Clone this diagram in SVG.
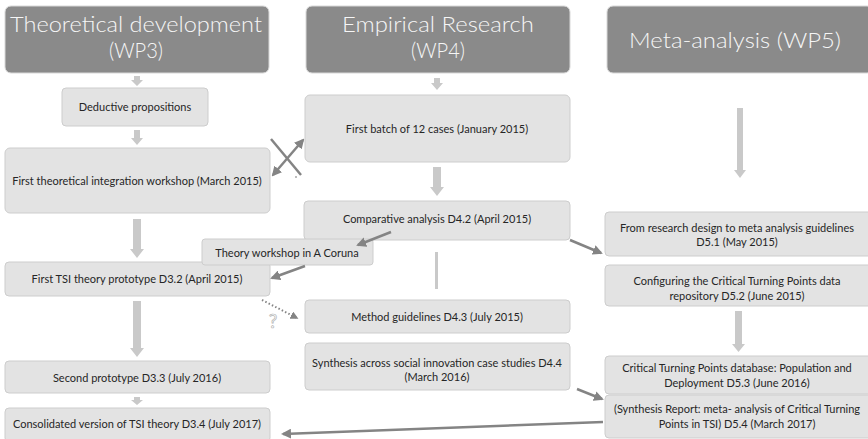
<svg xmlns="http://www.w3.org/2000/svg" width="868" height="439" viewBox="0 0 868 439">
  <defs>
    <style>
      .hdr { fill: #8a8a8a; stroke: #d8d8d8; stroke-width: 1; }
      .hdr-t { font-family: Lato, "Open Sans", sans-serif; font-size: 22px; font-weight: 300; fill: #f6f6f6; text-anchor: middle; }
      .box { fill: #e3e3e3; stroke: #cdcdcd; stroke-width: 1; }
      .t { font-family: Lato, "Open Sans", sans-serif; font-size: 11px; fill: #262626; text-anchor: middle; }
      .blk { fill: #c9c9c9; }
      .ln { stroke: #848484; stroke-width: 2.5; fill: none; }
      .dot { stroke: #848484; stroke-width: 2; fill: none; stroke-dasharray: 1.5 2.2; }
    </style>
    <marker id="ah" viewBox="0 0 10 10" refX="8" refY="5" markerWidth="4" markerHeight="4" orient="auto-start-reverse" markerUnits="strokeWidth">
      <path d="M0,0 L10,5 L0,10 z" fill="#848484"/>
    </marker>
  </defs>

  <!-- column headers -->
  <g id="wp3">
    <rect class="hdr" x="5" y="6" width="264" height="67" rx="6"/>
    <text class="hdr-t" x="136" y="32" font-size="23" textLength="252" lengthAdjust="spacingAndGlyphs">Theoretical development</text>
    <text class="hdr-t" x="136" y="58" font-size="23" textLength="54" lengthAdjust="spacingAndGlyphs">(WP3)</text>
  </g>
  <g id="wp4">
    <rect class="hdr" x="306" y="6" width="264" height="67" rx="6"/>
    <text class="hdr-t" x="438" y="32" textLength="192" lengthAdjust="spacingAndGlyphs">Empirical Research</text>
    <text class="hdr-t" x="438" y="58" textLength="54" lengthAdjust="spacingAndGlyphs">(WP4)</text>
  </g>
  <g id="wp5">
    <rect class="hdr" x="607" y="6" width="266" height="67" rx="6"/>
    <text class="hdr-t" x="735" y="48" font-size="24" textLength="212" lengthAdjust="spacingAndGlyphs">Meta-analysis (WP5)</text>
  </g>

  <!-- WP3 column -->
  <g id="deductive">
    <rect class="box" x="62" y="88" width="146" height="38" rx="4"/>
    <text class="t" x="135" y="111">Deductive propositions</text>
  </g>
  <g id="workshop1">
    <rect class="box" x="5" y="148" width="265" height="65" rx="5"/>
    <text class="t" x="137" y="185">First theoretical integration workshop (March 2015)</text>
  </g>
  <g id="prototype1">
    <rect class="box" x="5" y="262" width="265" height="34" rx="4"/>
    <text class="t" x="137" y="283">First TSI theory prototype D3.2 (April 2015)</text>
  </g>
  <g id="prototype2">
    <rect class="box" x="5" y="361" width="265" height="32" rx="4"/>
    <text class="t" x="137" y="382">Second prototype D3.3 (July 2016)</text>
  </g>
  <g id="consolidated">
    <rect class="box" x="5" y="408" width="265" height="34" rx="4"/>
    <text class="t" x="137" y="428">Consolidated version of TSI theory D3.4 (July 2017)</text>
  </g>

  <!-- WP4 column -->
  <g id="batch">
    <rect class="box" x="305" y="95" width="265" height="67" rx="5"/>
    <text class="t" x="437" y="133">First batch of 12 cases (January 2015)</text>
  </g>
  <g id="comparative">
    <rect class="box" x="304" y="201" width="266" height="39" rx="4"/>
    <text class="t" x="437" y="223">Comparative analysis D4.2 (April 2015)</text>
  </g>
  <g id="coruna">
    <rect class="box" x="202" y="239" width="171" height="26" rx="3"/>
    <text class="t" x="287" y="257">Theory workshop in A Coruna</text>
  </g>
  <g id="method">
    <rect class="box" x="305" y="300" width="265" height="33" rx="4"/>
    <text class="t" x="437" y="321">Method guidelines D4.3 (July 2015)</text>
  </g>
  <g id="synthesis-cases">
    <rect class="box" x="305" y="343" width="265" height="47" rx="4"/>
    <text class="t" x="437" y="367">Synthesis across social innovation case studies D4.4</text>
    <text class="t" x="437" y="381">(March 2016)</text>
  </g>

  <!-- WP5 column -->
  <g id="guidelines">
    <rect class="box" x="605" y="212" width="268" height="44" rx="4"/>
    <text class="t" x="737" y="232">From research design to meta analysis guidelines</text>
    <text class="t" x="737" y="246">D5.1 (May 2015)</text>
  </g>
  <g id="repository">
    <rect class="box" x="605" y="265" width="268" height="41" rx="4"/>
    <text class="t" x="737" y="285">Configuring the Critical Turning Points data</text>
    <text class="t" x="737" y="300">repository D5.2 (June 2015)</text>
  </g>
  <g id="database">
    <rect class="box" x="605" y="356" width="268" height="38" rx="4"/>
    <text class="t" x="737" y="372">Critical Turning Points database: Population and</text>
    <text class="t" x="737" y="387">Deployment D5.3 (June 2016)</text>
  </g>
  <g id="synthesis-report">
    <rect class="box" x="605" y="395" width="268" height="43" rx="4"/>
    <text class="t" x="737" y="413">(Synthesis Report: meta- analysis of Critical Turning</text>
    <text class="t" x="737" y="428">Points in TSI) D5.4 (March 2017)</text>
  </g>

  <!-- connectors -->
  <g id="connectors">
    <!-- block arrows pointing down -->
    <path class="blk" d="M134,76 h6 v4 h3 l-6,6 l-6,-6 h3 z"/>
    <path class="blk" d="M134,130 h6 v8 h3 l-6,7 l-6,-7 h3 z"/>
    <path class="blk" d="M133,219 h8 v30 h3 l-7,9 l-7,-9 h3 z"/>
    <path class="blk" d="M133,301 h8 v47 h3 l-7,9 l-7,-9 h3 z"/>
    <path class="blk" d="M134,397 h6 v3 h3 l-6,5 l-6,-5 h3 z"/>
    <path class="blk" d="M434,78 h6 v5 h3 l-6,7 l-6,-7 h3 z"/>
    <path class="blk" d="M433,167 h8 v20 h3 l-7,9 l-7,-9 h3 z"/>
    <rect class="blk" x="435" y="252" width="3" height="37"/>
    <path class="blk" d="M737,108 h6 v62 h3 l-6,8 l-6,-8 h3 z"/>
    <path class="blk" d="M735,311 h7 v33 h3 l-6.5,8 l-6.5,-8 h3 z"/>

    <!-- crossing links between workshop and first batch -->
    <line class="ln" x1="271" y1="139" x2="301" y2="175"/>
    <line class="ln" x1="273" y1="175" x2="303" y2="140" marker-start="url(#ah)" marker-end="url(#ah)"/>
    <circle cx="296" cy="177" r="0.8" fill="#666"/>

    <line class="ln" x1="391" y1="232" x2="358" y2="245" marker-end="url(#ah)"/>
    <line class="ln" x1="305" y1="266" x2="272" y2="278" marker-end="url(#ah)"/>
    <line class="ln" x1="570" y1="240" x2="601" y2="253" marker-end="url(#ah)"/>
    <line class="ln" x1="577" y1="389" x2="602" y2="399" marker-end="url(#ah)"/>
    <line class="ln" x1="603" y1="422" x2="283" y2="434" marker-end="url(#ah)"/>

    <!-- uncertain link -->
    <line class="dot" x1="262" y1="300" x2="297" y2="318" marker-end="url(#ah)"/>
    <text x="273" y="328" font-family="Lato, sans-serif" font-size="19" fill="#fff" stroke="#b5b5b5" stroke-width="0.7" text-anchor="middle">?</text>
  </g>
</svg>
